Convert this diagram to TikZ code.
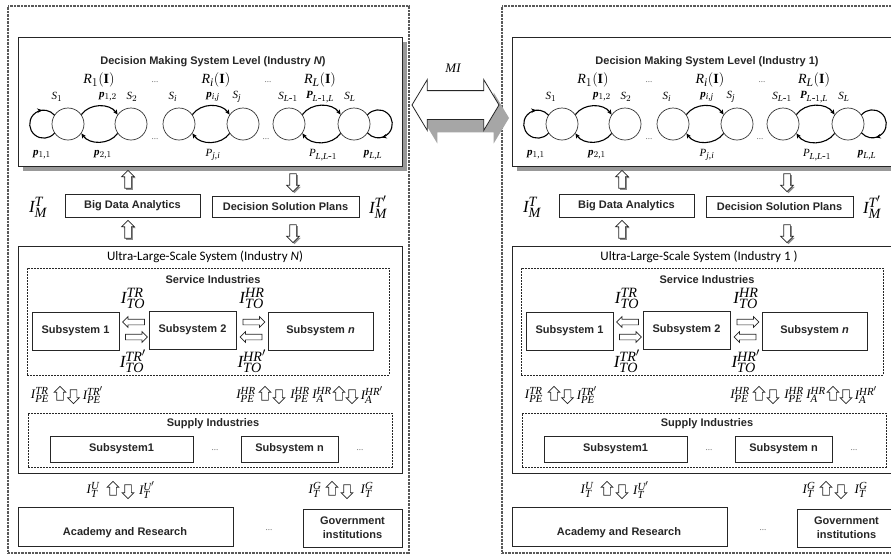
\documentclass[tikz,border=0pt]{standalone}
\usepackage{fontspec}
\setmainfont{Liberation Serif}
\usepackage[italic]{mathastext}
\newfontfamily\arialfont{Liberation Sans}
\newfontfamily\calibrifont{Carlito}
\usetikzlibrary{shapes.arrows,shadows,arrows.meta,decorations.markings}

\tikzset{
  panelframe/.style={draw=black!65, line width=1.3pt, dash pattern=on 0.7pt off 0.7pt, inner sep=0pt},
  boxed/.style={draw=black!85, line width=0.8pt, fill=white, inner sep=0pt, outer sep=0pt},
  dashedbox/.style={draw=black!85, line width=0.9pt, dash pattern=on 2pt off 1pt, inner sep=0pt},
  bfsans/.style={font=\arialfont\bfseries\fontsize{11}{13}\selectfont, text=black!85, inner sep=0pt},
  ulsfont/.style={font=\calibrifont\fontsize{13}{15}\selectfont, inner sep=0pt},
  state/.style={circle, draw=black!80, line width=0.7pt, minimum size=32pt, inner sep=0pt},
  trans/.style={line width=1.1pt, -{Stealth[length=5pt,width=4.5pt]}},
  loopmark/.style={line width=1.1pt, postaction={decorate, decoration={markings,
      mark=at position #1 with {\arrow{Stealth[length=5pt,width=4.5pt]}}}}},
  sym/.style={font=\fontsize{11}{13}\selectfont, inner sep=0pt},
  rsym/.style={font=\fontsize{14}{16}\selectfont, inner sep=0pt},
  bigsym/.style={font=\fontsize{17}{19}\selectfont, inner sep=0pt},
  rowsym/.style={font=\fontsize{13}{15}\selectfont, inner sep=0pt},
  dots/.style={font=\fontsize{9}{10}\selectfont, text=black!60, inner sep=0pt},
  hollow/.style={single arrow, draw=black!85, fill=white, line width=0.7pt},
  % vertical arrows: the shaft half-width comes from the horizontal inner sep
  vbig/.style={hollow, inner xsep=3pt, inner ysep=0pt, single arrow head extend=3pt, minimum height=18pt,
      drop shadow={shadow xshift=1.5pt, shadow yshift=-1.5pt, fill=black!45, opacity=1}},
  vsmall/.style={hollow, inner xsep=3pt, inner ysep=0pt, single arrow head extend=2.5pt, minimum height=14pt},
  % horizontal arrows: the shaft half-width comes from the vertical inner sep
  hmid/.style={hollow, inner xsep=0pt, inner ysep=2.5pt, single arrow head extend=2.5pt, minimum height=22pt},
  pointup/.style={shape border rotate=90},
  pointdown/.style={shape border rotate=270},
  pointleft/.style={shape border rotate=180},
  pointright/.style={shape border rotate=0},
}

\newcommand\bp[1]{{\bfseries\itshape #1}}

% One industry: decision level on top, ultra-large-scale system below
\newcommand\industrypanel[4]{%
\begin{scope}[xshift=#1, name prefix=#2]
  \node[panelframe, minimum width=401pt, minimum height=547pt] (frame) at (208.5,-279.5) {};
  % decision making level with its Markov chains
  \node[boxed, minimum width=384pt, minimum height=129pt,
        drop shadow={shadow xshift=5pt, shadow yshift=-5pt, fill=black!40, opacity=1}] (dm) at (210,-101.5) {};
  \node[bfsans] (dmtitle) at (213,-62) {Decision Making System Level (Industry #3)};
  \node[rsym] (r1) at (99,-80) {$R_1(\mathbf{I})$};
  \node[rsym] (ri) at (216,-80) {$R_i(\mathbf{I})$};
  \node[rsym] (rl) at (320,-80) {$R_L(\mathbf{I})$};
  \node[dots] (rd1) at (155,-82) {...};
  \node[dots] (rd2) at (268,-82) {...};
  \node[state] (s1) at (68,-124) {};
  \node[state] (s2) at (131,-124) {};
  \node[state] (si) at (179,-124) {};
  \node[state] (sj) at (243,-124) {};
  \node[state] (sl1) at (289,-124) {};
  \node[state] (sl) at (354,-124) {};
  \draw[loopmark=0.8] (s1.214) arc[start angle=-40, end angle=-320, radius=14pt];
  \draw[loopmark=0.77] (sl.34) arc[start angle=140, end angle=-140, radius=14pt];
  \draw[trans] (s1.35) to[bend left=55] (s2.145);
  \draw[trans] (s2.-145) to[bend left=55] (s1.-35);
  \draw[trans] (si.35) to[bend left=55] (sj.145);
  \draw[trans] (sj.-145) to[bend left=55] (si.-35);
  \draw[trans] (sl1.35) to[bend left=55] (sl.145);
  \draw[trans] (sl.-145) to[bend left=55] (sl1.-35);
  \node[sym] (ls1) at (57,-97) {$S_1$};
  \node[sym] (ls2) at (132,-97) {$S_2$};
  \node[sym] (lsi) at (173,-97) {$S_i$};
  \node[sym] (lsj) at (237,-97) {$S_j$};
  \node[sym] (lsl1) at (288,-97) {$S_{L\mbox{-}1}$};
  \node[sym] (lsl) at (350,-97) {$S_L$};
  \node[sym] (p12) at (108,-97) {\bp{p}$_{1,2}$};
  \node[sym] (pij) at (213,-97) {\bp{p}$_{i,j}$};
  \node[sym] (pll) at (320,-97) {\bp{P}$_{L\mbox{-}1,L}$};
  \node[sym] (p11) at (42,-155) {\bp{p}$_{1,1}$};
  \node[sym] (p21) at (103,-155) {\bp{p}$_{2,1}$};
  \node[sym] (pji) at (213,-155) {$P_{j,i}$};
  \node[sym] (plm) at (323,-155) {$P_{L,L\mbox{-}1}$};
  \node[sym] (plL) at (373,-155) {\bp{p}$_{L,L}$};
  \node[dots] (cd1) at (155,-139) {...};
  \node[dots] (cd2) at (266,-139) {...};
  % analytics and plans
  \node[boxed, bfsans, minimum width=135pt, minimum height=23pt] (bda) at (132.5,-205.5) {Big Data Analytics};
  \node[boxed, bfsans, minimum width=147pt, minimum height=21pt] (dsp) at (285.5,-206.5) {Decision Solution Plans};
  \node[vbig, pointup] (up1) at (128,-181) {};
  \node[vbig, pointdown] (dn1) at (293,-181) {};
  \node[vbig, pointup] (up2) at (128,-231) {};
  \node[vbig, pointdown] (dn2) at (293,-232) {};
  \node[bigsym] (imt) at (38,-207) {$I_M^T$};
  \node[bigsym] (imtp) at (378,-207) {$I_M^{T'}$};
  % ultra-large-scale system
  \node[boxed, minimum width=384pt, minimum height=227pt] (uls) at (210,-359.5) {};
  \node[ulsfont] (ulstitle) at (205,-257) {Ultra-Large-Scale System (Industry #4)};
  \node[dashedbox, minimum width=362pt, minimum height=107pt] (serv) at (208,-321.5) {};
  \node[bfsans] (servtitle) at (213,-280) {Service Industries};
  \node[boxed, bfsans, minimum width=87pt, minimum height=38pt] (sub1) at (75.5,-331) {Subsystem 1};
  \node[boxed, bfsans, minimum width=87pt, minimum height=38pt] (sub2) at (192.5,-330) {Subsystem 2};
  \node[boxed, bfsans, minimum width=105pt, minimum height=38pt] (subn) at (320.5,-331) {Subsystem \textit{n}};
  \node[hmid, pointleft] (h1) at (135,-322) {};
  \node[hmid, pointright] (h2) at (135,-337) {};
  \node[hmid, pointright] (h3) at (252.5,-322) {};
  \node[hmid, pointleft] (h4) at (252.5,-337) {};
  \node[bigsym] (ito1) at (133,-298) {$I_{TO}^{TR}$};
  \node[bigsym] (ito2) at (133,-361) {$I_{TO}^{TR'}$};
  \node[bigsym] (ito3) at (252,-298) {$I_{TO}^{HR}$};
  \node[bigsym] (ito4) at (252,-361) {$I_{TO}^{HR'}$};
  % exchanges with supply industries
  \node[rowsym] (ipe1) at (40,-395) {$I_{PE}^{TR}$};
  \node[vsmall, pointup] (pu1) at (60,-395) {};
  \node[vsmall, pointdown] (pd1) at (73.5,-395) {};
  \node[rowsym] (ipe2) at (93,-395) {$I_{PE}^{TR'}$};
  \node[rowsym] (ipe3) at (246,-395) {$I_{PE}^{HR}$};
  \node[vsmall, pointup] (pu2) at (265,-395) {};
  \node[vsmall, pointdown] (pd2) at (279,-395) {};
  \node[rowsym] (ipe4) at (300,-395) {$I_{PE}^{HR}$};
  \node[rowsym] (ia1) at (322,-395) {$I_{A}^{HR}$};
  \node[vsmall, pointup] (pu3) at (339,-395) {};
  \node[vsmall, pointdown] (pd3) at (352,-395) {};
  \node[rowsym] (ia2) at (372,-395) {$I_{A}^{HR'}$};
  \node[dashedbox, minimum width=364pt, minimum height=54pt] (supp) at (210,-440) {};
  \node[bfsans] (supptitle) at (213,-424) {Supply Industries};
  \node[boxed, bfsans, minimum width=143pt, minimum height=26pt] (ss1) at (121.5,-449) {Subsystem1};
  \node[dots] (sd1) at (215,-450) {...};
  \node[boxed, bfsans, minimum width=97pt, minimum height=26pt] (ssn) at (289.5,-449) {Subsystem n};
  \node[dots] (sd2) at (360,-450) {...};
  % academy and government
  \node[rowsym] (itu1) at (93,-490) {$I_{T}^{U}$};
  \node[vsmall, pointup] (bu1) at (113,-490) {};
  \node[vsmall, pointdown] (bd1) at (128,-490) {};
  \node[rowsym] (itu2) at (147,-490) {$I_{T}^{U'}$};
  \node[rowsym] (itg1) at (315,-490) {$I_{T}^{G}$};
  \node[vsmall, pointup] (bu2) at (332,-490) {};
  \node[vsmall, pointdown] (bd2) at (347,-490) {};
  \node[rowsym] (itg2) at (367,-490) {$I_{T}^{G}$};
  \node[boxed, minimum width=215pt, minimum height=39pt] (acad) at (125.5,-526.5) {};
  \node[bfsans] (acadtxt) at (125,-533) {Academy and Research};
  \node[dots] (bdots) at (269,-530) {...};
  \node[boxed, bfsans, align=center, minimum width=99pt, minimum height=38pt] (gov) at (352.5,-528) {Government\\[1pt]institutions};
\end{scope}}

\begin{document}
\begin{tikzpicture}[x=1pt, y=1pt]
  \useasboundingbox (0,0) rectangle (891,-555);
  \clip (0,0) rectangle (891,-555);
  \fill[white] (0,0) rectangle (891,-555);
  \industrypanel{0pt}{L-}{\textit{N}}{\textit{N}}
  \industrypanel{494pt}{R-}{1}{1 }
  % mutual information exchange between industries
  \node[double arrow, draw=black!85, fill=white, line width=0.8pt, inner xsep=0pt, inner ysep=14pt,
        minimum height=87pt, double arrow head extend=11pt,
        double arrow tip angle=118,
        drop shadow={shadow xshift=10pt, shadow yshift=-13pt, fill=black!35, opacity=1}] (mi) at (455.5,-105) {};
  \node[font=\fontsize{13}{15}\selectfont, inner sep=0pt] (milabel) at (453,-68) {$MI$};
\end{tikzpicture}
\end{document}
